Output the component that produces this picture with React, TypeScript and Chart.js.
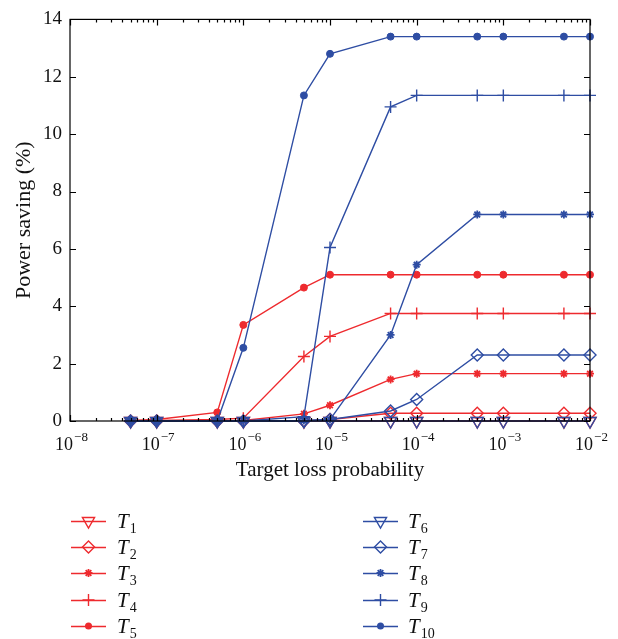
import React, { useEffect, useRef } from 'react';
import { Chart, registerables } from 'chart.js';

Chart.register(...registerables);

const RED = '#EE2A2E';
const BLUE = '#2E4DA3';
const FONT = '"Liberation Serif", "Times New Roman", serif';

const xValues = [5e-8, 1e-7, 5e-7, 1e-6, 5e-6, 1e-5, 5e-5, 1e-4, 5e-4, 1e-3, 5e-3, 1e-2];
const xDecades = [-8, -7, -6, -5, -4, -3, -2];
const yTicks = [0, 2, 4, 6, 8, 10, 12, 14];

const T1 = [0, 0, 0, 0, 0, 0, 0, 0, 0, 0, 0, 0];
const T2 = [0, 0, 0, 0, 0, 0.05, 0.27, 0.27, 0.27, 0.27, 0.27, 0.27];
const T3 = [0, 0, 0, 0.02, 0.25, 0.55, 1.45, 1.65, 1.65, 1.65, 1.65, 1.65];
const T4 = [0, 0.02, 0.05, 0.1, 2.25, 2.95, 3.75, 3.75, 3.75, 3.75, 3.75, 3.75];
const T5 = [0.02, 0.05, 0.3, 3.35, 4.65, 5.1, 5.1, 5.1, 5.1, 5.1, 5.1, 5.1];
const T6 = [0, 0, 0, 0, 0, 0, 0, 0, 0, 0, 0, 0];
const T7 = [0, 0, 0, 0, 0, 0.05, 0.35, 0.75, 2.3, 2.3, 2.3, 2.3];
const T8 = [0, 0, 0, 0, 0.02, 0.05, 3.0, 5.45, 7.2, 7.2, 7.2, 7.2];
const T9 = [0, 0, 0, 0, 0.15, 6.05, 10.95, 11.35, 11.35, 11.35, 11.35, 11.35];
const T10 = [0, 0, 0, 2.55, 11.35, 12.8, 13.4, 13.4, 13.4, 13.4, 13.4, 13.4];

type Mk = 'tri' | 'dia' | 'star' | 'plus' | 'dot';
const seriesNames = ['1', '2', '3', '4', '5', '6', '7', '8', '9', '10'];
const seriesData = [T1, T2, T3, T4, T5, T6, T7, T8, T9, T10];
const seriesMarkers: Mk[] = ['tri', 'dia', 'star', 'plus', 'dot', 'tri', 'dia', 'star', 'plus', 'dot'];
const seriesColors = [RED, RED, RED, RED, RED, BLUE, BLUE, BLUE, BLUE, BLUE];

function markerProps(m: Mk, color: string) {
  switch (m) {
    case 'tri':
      return { pointStyle: 'triangle', pointRadius: 7, pointRotation: 180, pointBackgroundColor: 'rgba(0,0,0,0)', pointBorderColor: color, pointBorderWidth: 1.4 };
    case 'dia':
      return { pointStyle: 'rectRot', pointRadius: 6, pointBackgroundColor: 'rgba(0,0,0,0)', pointBorderColor: color, pointBorderWidth: 1.4 };
    case 'star':
      return { pointStyle: 'star', pointRadius: 4, pointBackgroundColor: color, pointBorderColor: color, pointBorderWidth: 1.8 };
    case 'plus':
      return { pointStyle: 'cross', pointRadius: 6, pointBackgroundColor: color, pointBorderColor: color, pointBorderWidth: 1.4 };
    default:
      return { pointStyle: 'circle', pointRadius: 3.5, pointBackgroundColor: color, pointBorderColor: color, pointBorderWidth: 1 };
  }
}

function drawMarker(ctx: CanvasRenderingContext2D, m: Mk, x: number, y: number, color: string) {
  ctx.save();
  ctx.strokeStyle = color;
  ctx.fillStyle = color;
  ctx.lineWidth = 1.4;
  ctx.beginPath();
  if (m === 'tri') {
    const r = 7;
    ctx.moveTo(x - r * 0.866, y - r * 0.5);
    ctx.lineTo(x + r * 0.866, y - r * 0.5);
    ctx.lineTo(x, y + r);
    ctx.closePath();
    ctx.stroke();
  } else if (m === 'dia') {
    const r = 6;
    ctx.moveTo(x, y - r);
    ctx.lineTo(x + r, y);
    ctx.lineTo(x, y + r);
    ctx.lineTo(x - r, y);
    ctx.closePath();
    ctx.stroke();
  } else if (m === 'star') {
    ctx.lineWidth = 1.8;
    const r = 4;
    for (let i = 0; i < 4; i++) {
      const a = (i * Math.PI) / 4;
      ctx.moveTo(x - r * Math.cos(a), y - r * Math.sin(a));
      ctx.lineTo(x + r * Math.cos(a), y + r * Math.sin(a));
    }
    ctx.stroke();
  } else if (m === 'plus') {
    const r = 6;
    ctx.moveTo(x - r, y);
    ctx.lineTo(x + r, y);
    ctx.moveTo(x, y - r);
    ctx.lineTo(x, y + r);
    ctx.stroke();
  } else {
    ctx.arc(x, y, 3.5, 0, Math.PI * 2);
    ctx.fill();
  }
  ctx.restore();
}

const framePlugin = {
  id: 'framePlugin',
  afterDraw(chart: any) {
    const ctx: CanvasRenderingContext2D = chart.ctx;
    const { left, right, top, bottom } = chart.chartArea;
    const xs = chart.scales.x;
    const ys = chart.scales.y;
    ctx.save();
    ctx.strokeStyle = '#000';
    ctx.lineWidth = 1.2;
    ctx.strokeRect(left, top, right - left, bottom - top);
    ctx.beginPath();
    for (const d of xDecades) {
      const px = Math.round(xs.getPixelForValue(Math.pow(10, d))) + 0.5;
      ctx.moveTo(px, bottom);
      ctx.lineTo(px, bottom - 6);
      ctx.moveTo(px, top);
      ctx.lineTo(px, top + 6);
      if (d < -2) {
        for (let m = 2; m <= 9; m++) {
          const mx = Math.round(xs.getPixelForValue(m * Math.pow(10, d))) + 0.5;
          ctx.moveTo(mx, bottom);
          ctx.lineTo(mx, bottom - 3);
          ctx.moveTo(mx, top);
          ctx.lineTo(mx, top + 3);
        }
      }
    }
    for (const v of yTicks) {
      const py = Math.round(ys.getPixelForValue(v)) + 0.5;
      ctx.moveTo(left, py);
      ctx.lineTo(left + 6, py);
      ctx.moveTo(right, py);
      ctx.lineTo(right - 6, py);
    }
    ctx.stroke();

    ctx.fillStyle = '#111';
    ctx.textBaseline = 'alphabetic';
    ctx.textAlign = 'left';
    for (const d of xDecades) {
      const px = xs.getPixelForValue(Math.pow(10, d));
      ctx.font = `18px ${FONT}`;
      const w1 = ctx.measureText('10').width;
      const sup = '\u2212' + String(-d);
      ctx.font = `13px ${FONT}`;
      const w2 = ctx.measureText(sup).width;
      const start = px - (w1 + w2) / 2 + 1;
      ctx.font = `18px ${FONT}`;
      ctx.fillText('10', start, 450);
      ctx.font = `13px ${FONT}`;
      ctx.fillText(sup, start + w1 + 1, 441);
    }

    ctx.textAlign = 'center';
    ctx.textBaseline = 'middle';
    ctx.font = `21px ${FONT}`;
    ctx.fillText('Target loss probability', (left + right) / 2, 470);
    ctx.save();
    ctx.translate(24, (top + bottom) / 2);
    ctx.rotate(-Math.PI / 2);
    ctx.font = `22px ${FONT}`;
    ctx.fillText('Power saving (%)', 0, 0);
    ctx.restore();

    const rowsY = [521, 547, 573, 600, 626];
    for (let i = 0; i < seriesNames.length; i++) {
      const col = i < 5 ? 0 : 1;
      const row = i % 5;
      const y = rowsY[row];
      const x0 = col === 0 ? 71 : 363;
      const x1 = col === 0 ? 106 : 398;
      const color = seriesColors[i];
      ctx.save();
      ctx.strokeStyle = color;
      ctx.lineWidth = 1.4;
      ctx.beginPath();
      ctx.moveTo(x0, y + 0.5);
      ctx.lineTo(x1, y + 0.5);
      ctx.stroke();
      ctx.restore();
      drawMarker(ctx, seriesMarkers[i], (x0 + x1) / 2, y, color);
      const tx = col === 0 ? 117 : 408;
      ctx.fillStyle = '#111';
      ctx.textAlign = 'left';
      ctx.textBaseline = 'alphabetic';
      ctx.font = `italic 21px ${FONT}`;
      ctx.fillText('T', tx, y + 7);
      const tw = ctx.measureText('T').width;
      ctx.font = `14px ${FONT}`;
      ctx.fillText(seriesNames[i], tx + tw + 1, y + 12);
    }
    ctx.restore();
  },
};

export default function App() {
  const ref = useRef<HTMLCanvasElement | null>(null);
  useEffect(() => {
    document.body.style.margin = '0';
    const canvas = ref.current;
    if (!canvas) return;
    const datasets = seriesData.map((data, i) => ({
      label: 'T' + seriesNames[i],
      data: data.map((v, j) => ({ x: xValues[j], y: v })),
      borderColor: seriesColors[i],
      borderWidth: 1.4,
      fill: false,
      tension: 0,
      order: seriesColors[i] === BLUE ? 0 : 1,
      ...markerProps(seriesMarkers[i], seriesColors[i]),
    }));
    const chart = new Chart(canvas, {
      type: 'line',
      data: { datasets } as any,
      options: {
        animation: false,
        responsive: false,
        devicePixelRatio: 1,
        clip: false as any,
        layout: { padding: { left: 0, right: 28, top: 13, bottom: 0 } },
        plugins: { legend: { display: false }, tooltip: { enabled: false } },
        scales: {
          x: {
            type: 'logarithmic',
            min: 1e-8,
            max: 1e-2,
            grid: { display: false, drawTicks: false },
            border: { display: false },
            ticks: { display: false },
            afterFit: (s: any) => { s.height = 639 - 421; },
          },
          y: {
            type: 'linear',
            min: 0,
            max: 14,
            grid: { display: false, drawTicks: false },
            border: { display: false },
            afterBuildTicks: (s: any) => { s.ticks = yTicks.map((v) => ({ value: v })); },
            ticks: {
              color: '#111',
              padding: 8,
              font: { family: FONT, size: 19 },
              callback: (v: any) => String(v),
            },
            afterFit: (s: any) => { s.width = 70; },
          },
        },
      } as any,
      plugins: [framePlugin],
    });
    return () => chart.destroy();
  }, []);
  return (
    <div style={{ position: 'fixed', left: 0, top: 0, width: 618, height: 639, background: '#fff' }}>
      <canvas ref={ref} width={618} height={639} style={{ width: 618, height: 639 }} />
    </div>
  );
}
